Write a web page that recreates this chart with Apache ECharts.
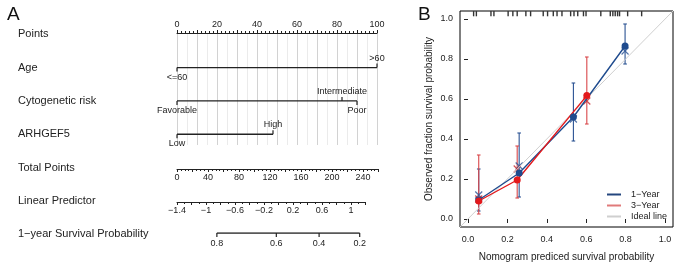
<!DOCTYPE html>
<html>
<head>
<meta charset="utf-8">
<script src="https://cdn.jsdelivr.net/npm/echarts@6/dist/echarts.min.js"></script>
<style>
html, body { margin: 0; padding: 0; background: #fff; }
#chart { width: 674px; height: 262px; }
</style>
</head>
<body>
<div id="chart"></div>
<script>
// ---- panel A: nomogram ----
const rowNames = ['Points', 'Age', 'Cytogenetic risk', 'ARHGEF5', 'Total Points', 'Linear Predictor', '1\u2212year Survival Probability']
const ageLevels = ['<=60', '>60']
const agePoints = [0, 100]
const cytoLevels = ['Favorable', 'Intermediate', 'Poor']
const cytoPoints = [0, 82.5, 90]
const arhLevels = ['Low', 'High']
const arhPoints = [0, 48]
const survProb = [0.8, 0.6, 0.4, 0.2]
const survLP = [-0.85, -0.03, 0.56, 1.12]

// ---- panel B: calibration ----
const pred1y = [0.055, 0.26, 0.535, 0.797]
const obs1y = [0.095, 0.23, 0.51, 0.865]
const lo1y = [0.04, 0.11, 0.39, 0.775]
const hi1y = [0.25, 0.43, 0.68, 0.975]
const corr1y = [0.12, 0.265, 0.50, 0.84]
const pred3y = [0.055, 0.25, 0.603]
const obs3y = [0.09, 0.195, 0.617]
const lo3y = [0.025, 0.105, 0.475]
const hi3y = [0.32, 0.365, 0.81]
const corr3y = [0.10, 0.25, 0.59]
const rugPred = [0.029, 0.043, 0.117, 0.132, 0.204, 0.228, 0.25, 0.294, 0.318, 0.382, 0.404, 0.433, 0.452,
  0.477, 0.521, 0.538, 0.557, 0.586, 0.599, 0.674, 0.722, 0.735, 0.747, 0.759, 0.769, 0.81, 0.881]

const FONT = 'Liberation Sans, Arial, sans-serif'
const INK = '#222'
const BLUE = '#1f4b8e'
const RED = '#e3191c'
const upLabels = ['>60', 'Intermediate', 'High']

const chart = echarts.init(document.getElementById('chart'), null, { renderer: 'canvas' })

function hiddenAxis (gridIndex, extra) {
  return Object.assign({ gridIndex, type: 'value', show: false }, extra)
}

function rowAxis (gridIndex, min, max, interval, minorSplit, fmt) {
  return {
    gridIndex, type: 'value', position: 'bottom', min, max, interval,
    axisLine: { show: true, onZero: false, lineStyle: { color: INK, width: 1 } },
    axisTick: { show: true, length: 3, lineStyle: { color: INK } },
    minorTick: { show: true, splitNumber: minorSplit, length: 2, lineStyle: { color: INK } },
    axisLabel: { fontSize: 9, color: INK, margin: 4, formatter: fmt, showMaxLabel: false },
    splitLine: { show: false }
  }
}

function factorSeries (row, levels, points) {
  return {
    type: 'line', xAxisIndex: 2, yAxisIndex: 2, silent: true,
    symbol: 'rect', symbolSize: [1.2, 4],
    lineStyle: { color: INK, width: 1.3 },
    itemStyle: { color: INK },
    label: { show: true, fontSize: 9, color: INK, distance: 1 },
    data: levels.map((lv, i) => {
      const up = upLabels.includes(lv)
      return {
        value: [points[i], row],
        symbolOffset: [0, up ? -2 : 2],
        label: { position: up ? 'top' : 'bottom', formatter: lv }
      }
    })
  }
}

function errorBars (xs, lo, hi, color) {
  return {
    type: 'custom', xAxisIndex: 6, yAxisIndex: 6, silent: true,
    data: xs.map((x, i) => [x, lo[i], hi[i]]),
    renderItem: (params, api) => {
      const top = api.coord([api.value(0), api.value(2)])
      const bot = api.coord([api.value(0), api.value(1)])
      const w = 1.8
      const st = { stroke: color, lineWidth: 1.1 }
      return {
        type: 'group',
        children: [
          { type: 'line', shape: { x1: top[0], y1: top[1], x2: bot[0], y2: bot[1] }, style: st },
          { type: 'line', shape: { x1: top[0] - w, y1: top[1], x2: top[0] + w, y2: top[1] }, style: st },
          { type: 'line', shape: { x1: bot[0] - w, y1: bot[1], x2: bot[0] + w, y2: bot[1] }, style: st }
        ]
      }
    }
  }
}

function crossMarks (xs, ys, color) {
  return {
    type: 'scatter', xAxisIndex: 6, yAxisIndex: 6, silent: true,
    symbol: 'path://M0,0L10,10M10,0L0,10', symbolSize: 7,
    itemStyle: { color: 'transparent', borderColor: color, borderWidth: 1.2 },
    data: xs.map((x, i) => [x, ys[i]])
  }
}

const lpFmt = v => {
  const k = Math.round((v + 1.4) * 10)
  if (k % 4) return ''
  const r = Math.round(v * 10) / 10
  return (r < 0 ? '\u2212' : '') + Math.abs(r)
}

// every grid is placed by hand, so no automatic shrinking to fit labels
const fixed = g => Object.assign({ outerBoundsMode: 'none', containLabel: false }, g)

const option = {
  animation: false,
  textStyle: { fontFamily: FONT },
  title: [
    { text: 'A', left: 2, top: 0, textStyle: { fontSize: 19, fontWeight: 'normal', color: '#111', fontFamily: FONT } },
    { text: 'B', left: 413, top: 0, textStyle: { fontSize: 19, fontWeight: 'normal', color: '#111', fontFamily: FONT } }
  ],
  legend: {
    orient: 'vertical', left: 607, top: 190, padding: 0, itemGap: 2,
    itemWidth: 14, itemHeight: 2, icon: 'rect',
    textStyle: { fontSize: 9, color: INK, fontFamily: FONT, padding: [0, 0, 0, 5] },
    data: [
      { name: '1\u2212Year', itemStyle: { color: '#24467e' } },
      { name: '3\u2212Year', itemStyle: { color: '#e07a7a' } },
      { name: 'Ideal line', itemStyle: { color: '#cfcfcf' } }
    ]
  },
  grid: [
    fixed({ left: 177, top: 33, width: 200, height: 112 }),        // 0 points axis + grid lines
    fixed({ left: 177, top: 168, width: 201.5, height: 1 }),       // 1 total points
    fixed({ left: 177, top: 17.6, width: 200, height: 233.3 }),    // 2 rows (labels + factor lines)
    fixed({ left: 177, top: 201, width: 188.5, height: 1 }),       // 3 linear predictor
    fixed({ left: 177, top: 233, width: 188.5, height: 1 }),       // 4 survival probability
    fixed({ left: 468, top: 19, width: 197, height: 200 }),        // 5 calibration axes
    fixed({ left: 460, top: 11, width: 213, height: 216, show: true, borderColor: '#000', borderWidth: 1, backgroundColor: 'transparent' }) // 6 frame
  ],
  xAxis: [
    {
      gridIndex: 0, type: 'value', position: 'top', min: 0, max: 100, interval: 10,
      axisLine: { show: true, onZero: false, lineStyle: { color: INK, width: 1 } },
      axisTick: { show: true, length: 3, lineStyle: { color: INK } },
      minorTick: { show: true, splitNumber: 5, length: 2, lineStyle: { color: INK } },
      axisLabel: { fontSize: 9, color: INK, margin: 4, formatter: v => (v % 20 === 0 ? String(v) : '') },
      splitLine: { show: false }
    },
    rowAxis(1, 0, 260, 20, 4, v => (v % 40 === 0 ? String(v) : '')),
    hiddenAxis(2, { min: 0, max: 100 }),
    rowAxis(3, -1.4, 1.2, 0.2, 2, lpFmt),
    hiddenAxis(4, { min: -1.4, max: 1.2 }),
    {
      gridIndex: 5, type: 'value', min: 0, max: 1, interval: 0.2, offset: 8,
      axisLine: { show: false },
      axisTick: { show: true, length: 4, lineStyle: { color: INK } },
      axisLabel: { fontSize: 9, color: INK, margin: 8, formatter: v => v.toFixed(1) },
      splitLine: { show: false },
      name: 'Nomogram prediced survival probability', nameLocation: 'middle', nameGap: 25,
      nameTextStyle: { fontSize: 10, color: INK, fontFamily: FONT }
    },
    hiddenAxis(6, { min: -0.04, max: 1.04 }),
    // grid lines of the points block, every 5 points
    {
      gridIndex: 0, type: 'value', position: 'bottom', min: 0, max: 100, interval: 5,
      axisLine: { show: false }, axisTick: { show: false }, axisLabel: { show: false },
      splitLine: { show: true, lineStyle: { color: ['#c6c6c6', '#e6e6e6'], width: 0.8 } }
    }
  ],
  yAxis: [
    hiddenAxis(0, { min: 0, max: 1 }),
    hiddenAxis(1, { min: 0, max: 1 }),
    {
      gridIndex: 2, type: 'category', inverse: true, data: rowNames,
      axisLine: { show: false }, axisTick: { show: false }, splitLine: { show: false },
      axisLabel: { align: 'left', margin: 159, fontSize: 11, color: INK }
    },
    hiddenAxis(3, { min: 0, max: 1 }),
    hiddenAxis(4, { min: 0, max: 1 }),
    {
      gridIndex: 5, type: 'value', min: 0, max: 1, interval: 0.2, offset: 7,
      axisLine: { show: false },
      axisTick: { show: true, length: 4, lineStyle: { color: INK } },
      axisLabel: { fontSize: 9, color: INK, margin: 8, formatter: v => v.toFixed(1) },
      splitLine: { show: false },
      name: 'Observed fraction survival probability', nameLocation: 'middle', nameGap: 27, nameRotate: 90,
      nameTextStyle: { fontSize: 10, color: INK, fontFamily: FONT }
    },
    hiddenAxis(6, { min: -0.04, max: 1.04 })
  ],
  series: [
    factorSeries('Age', ageLevels, agePoints),
    factorSeries('Cytogenetic risk', cytoLevels, cytoPoints),
    factorSeries('ARHGEF5', arhLevels, arhPoints),
    {
      type: 'line', xAxisIndex: 4, yAxisIndex: 4, silent: true,
      symbol: 'rect', symbolSize: [1.2, 4], symbolOffset: [0, 2],
      lineStyle: { color: INK, width: 1.3 }, itemStyle: { color: INK },
      label: { show: true, position: 'bottom', distance: 2, fontSize: 9, color: INK },
      data: survLP.map((v, i) => ({ value: [v, 1], label: { formatter: String(survProb[i]) } }))
    },
    {
      type: 'line', name: 'Ideal line', xAxisIndex: 6, yAxisIndex: 6, silent: true, showSymbol: false,
      lineStyle: { color: '#cfcfcf', width: 1 }, itemStyle: { color: '#cfcfcf' },
      data: [[-0.04, -0.04], [1.04, 1.04]]
    },
    {
      type: 'scatter', xAxisIndex: 6, yAxisIndex: 6, silent: true,
      symbol: 'rect', symbolSize: [1.4, 5], itemStyle: { color: '#000' },
      data: rugPred.map(x => [x, 1.026])
    },
    errorBars(pred1y, lo1y, hi1y, '#2a5293'),
    {
      type: 'line', name: '1\u2212Year', xAxisIndex: 6, yAxisIndex: 6, silent: true,
      symbol: 'circle', symbolSize: 7,
      lineStyle: { color: BLUE, width: 1.4 }, itemStyle: { color: BLUE },
      data: pred1y.map((x, i) => [x, obs1y[i]])
    },
    crossMarks(pred1y, corr1y, '#2a5293'),
    errorBars(pred3y, lo3y, hi3y, '#d9474a'),
    {
      type: 'line', name: '3\u2212Year', xAxisIndex: 6, yAxisIndex: 6, silent: true,
      symbol: 'circle', symbolSize: 7,
      lineStyle: { color: RED, width: 1.4 }, itemStyle: { color: RED },
      data: pred3y.map((x, i) => [x, obs3y[i]])
    },
    crossMarks(pred3y, corr3y, '#c8262b')
  ]
}

chart.setOption(option)
</script>
</body>
</html>
